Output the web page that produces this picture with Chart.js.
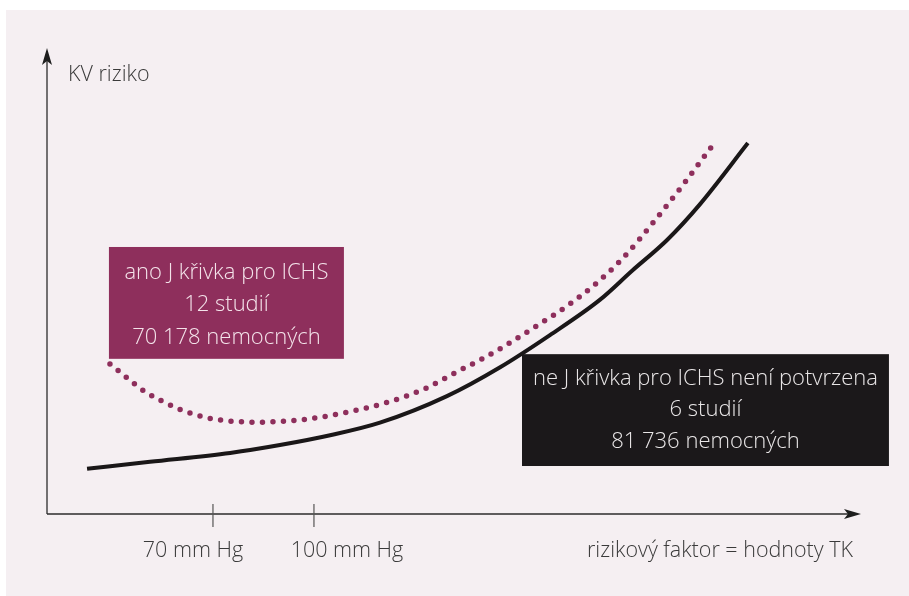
<!DOCTYPE html>
<html>
<head>
<meta charset="utf-8">
<script src="https://cdn.jsdelivr.net/npm/chart.js@4.4.1/dist/chart.umd.min.js"></script>
<style>
  html, body { margin: 0; padding: 0; background: #ffffff; }
  #wrap { width: 909px; height: 596px; position: relative; }
</style>
</head>
<body>
<div id="wrap"><canvas id="chart"></canvas></div>
<script>
// values: x in mm Hg, y = relative KV riziko (0..100)
const noJX = [32.6, 51.3, 75.1, 89.9, 104.8, 119.6, 139.5, 155.3, 170.1, 185.0, 194.5, 204.9, 214.7, 228.9];
const noJY = [9.7, 11.2, 13.1, 14.8, 16.9, 19.6, 25.3, 31.5, 38.4, 46.0, 52.2, 58.8, 66.5, 79.6];

const jX = [39.4, 44.5, 49.5, 55.5, 61.4, 67.3, 74.2, 82.8, 95.9, 108.9, 122.0, 133.3, 141.9, 150.5, 156.1, 167.1, 175.5, 183.2, 191.5, 201.6, 209.6, 218.5];
const jY = [32.2, 29.2, 26.4, 24.0, 22.1, 20.8, 20.0, 19.7, 20.2, 21.7, 24.0, 27.0, 30.3, 33.5, 35.8, 40.8, 44.8, 49.1, 54.7, 63.3, 70.6, 79.2];

const tickValues = [70, 100];
const tickLabels = ["70 mm Hg", "100 mm Hg"];
const xTitle = "rizikový faktor = hodnoty TK";
const yTitle = "KV riziko";

const jBoxText = ["ano J křivka pro ICHS", "12 studií", "70 178 nemocných"];
const noJBoxText = ["ne J křivka pro ICHS není potvrzena", "6 studií", "81 736 nemocných"];

const FONT = '"Open Sans", "Noto Sans", sans-serif';

function toPoints(xs, ys) {
  return xs.map((x, i) => ({ x: x, y: ys[i] }));
}

// background, arrows, ticks, titles and the two info boxes
const drawing = {
  id: "drawing",
  beforeDraw(chart) {
    const ctx = chart.ctx;
    ctx.save();
    ctx.fillStyle = "#ffffff";
    ctx.fillRect(0, 0, chart.width, chart.height);
    ctx.fillStyle = "#f5eff2";
    ctx.fillRect(6, 10, chart.width - 6, chart.height - 10);
    ctx.restore();
  },
  beforeDatasetsDraw(chart) {
    const ctx = chart.ctx;
    const a = chart.chartArea;
    const xs = chart.scales.x;
    ctx.save();
    ctx.strokeStyle = "#2b2b2b";
    ctx.fillStyle = "#1e1e1e";
    ctx.lineWidth = 1.3;
    // y axis
    ctx.beginPath();
    ctx.moveTo(a.left, a.bottom);
    ctx.lineTo(a.left, a.top + 10);
    ctx.stroke();
    ctx.beginPath();
    ctx.moveTo(a.left, a.top);
    ctx.lineTo(a.left - 5, a.top + 17);
    ctx.lineTo(a.left, a.top + 13);
    ctx.lineTo(a.left + 5, a.top + 17);
    ctx.closePath();
    ctx.fill();
    // x axis
    ctx.beginPath();
    ctx.moveTo(a.left, a.bottom);
    ctx.lineTo(a.right - 10, a.bottom);
    ctx.stroke();
    ctx.beginPath();
    ctx.moveTo(a.right, a.bottom);
    ctx.lineTo(a.right - 17, a.bottom - 5);
    ctx.lineTo(a.right - 13, a.bottom);
    ctx.lineTo(a.right - 17, a.bottom + 5);
    ctx.closePath();
    ctx.fill();
    // ticks
    ctx.strokeStyle = "#555";
    ctx.lineWidth = 1.2;
    const labelShift = [-20, 33];
    ctx.font = "300 21.5px " + FONT;
    ctx.fillStyle = "#3a3a3a";
    ctx.textAlign = "center";
    ctx.textBaseline = "middle";
    tickValues.forEach((v, i) => {
      const px = xs.getPixelForValue(v);
      ctx.beginPath();
      ctx.moveTo(px, a.bottom - 10);
      ctx.lineTo(px, a.bottom + 13);
      ctx.stroke();
      ctx.fillText(tickLabels[i], px + labelShift[i], a.bottom + 37);
    });
    ctx.textAlign = "right";
    ctx.fillText(xTitle, a.right - 8, a.bottom + 37);
    ctx.textAlign = "left";
    ctx.fillText(yTitle, a.left + 21, 75);
    ctx.restore();
  },
  afterDatasetsDraw(chart) {
    const ctx = chart.ctx;
    const xs = chart.scales.x, ys = chart.scales.y;
    function box(x0, y0, x1, y1, bg, fg, lines, gap, dy) {
      const l = xs.getPixelForValue(x0), r = xs.getPixelForValue(x1);
      const t = ys.getPixelForValue(y0), b = ys.getPixelForValue(y1);
      ctx.fillStyle = bg;
      ctx.fillRect(l, t, r - l, b - t);
      ctx.fillStyle = fg;
      ctx.font = "300 22px " + FONT;
      ctx.textAlign = "center";
      ctx.textBaseline = "middle";
      const cx = (l + r) / 2, cy = (t + b) / 2 + dy;
      lines.forEach((s, i) => ctx.fillText(s, cx, cy + (i - 1) * gap));
    }
    ctx.save();
    box(39.1, 57.3, 108.9, 33.3, "#8e2f5c", "#f4e3ea", jBoxText, 32.5, 2);
    box(161.8, 34.3, 270.8, 10.3, "#1b181a", "#e9e6e7", noJBoxText, 31.5, 0);
    ctx.restore();
  }
};

new Chart(document.getElementById("chart"), {
  type: "line",
  data: {
    datasets: [
      {
        label: "J křivka",
        data: toPoints(jX, jY),
        borderColor: "#8e2f5c",
        borderWidth: 5.5,
        borderDash: [0, 10.5],
        borderCapStyle: "round",
        pointRadius: 0,
        cubicInterpolationMode: "monotone",
        fill: false
      },
      {
        label: "ne J křivka",
        data: toPoints(noJX, noJY),
        borderColor: "#1a1718",
        borderWidth: 4,
        pointRadius: 0,
        cubicInterpolationMode: "monotone",
        fill: false
      }
    ]
  },
  options: {
    responsive: true,
    maintainAspectRatio: false,
    animation: false,
    layout: { padding: { left: 47, right: 48, top: 48, bottom: 82 } },
    scales: {
      x: { type: "linear", min: 20.7, max: 262.5, display: false },
      y: { type: "linear", min: 0, max: 100, display: false }
    },
    plugins: {
      legend: { display: false },
      tooltip: { enabled: false }
    }
  },
  plugins: [drawing]
});
</script>
</body>
</html>
